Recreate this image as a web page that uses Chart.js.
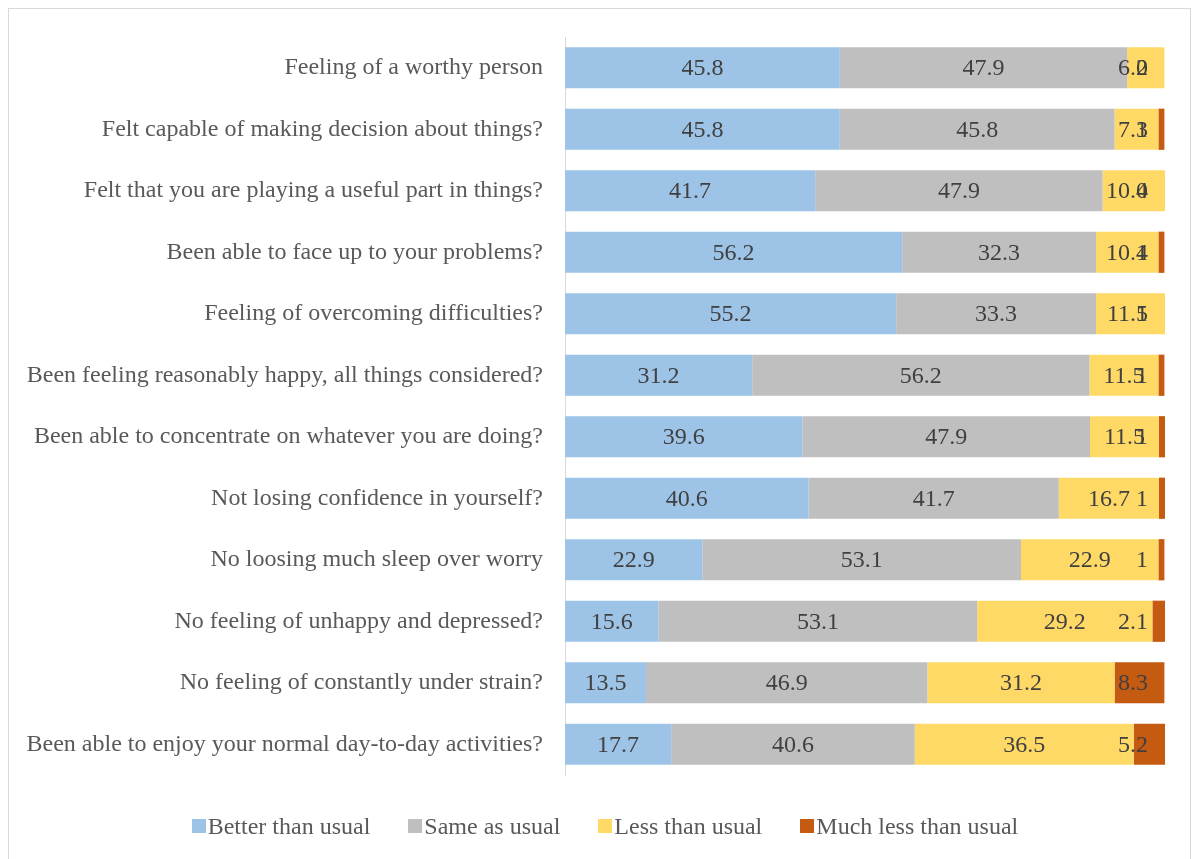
<!DOCTYPE html>
<html>
<head>
<meta charset="utf-8">
<script src="https://cdn.jsdelivr.net/npm/chart.js@4.4.0/dist/chart.umd.min.js"></script>
<style>
  html, body { margin: 0; background: #fff; }
  #wrap { position: relative; width: 1200px; height: 859px; }
  #frame { position: absolute; left: 8px; top: 8px; width: 1183px; height: 860px; border: 1px solid #d9d9d9; box-sizing: border-box; }
  canvas { position: absolute; left: 0; top: 0; }
  #leyenda { position: absolute; left: 0; top: 812px; width: 1210px; height: 28px;
    display: flex; justify-content: center; align-items: center; gap: 38px;
    font: 24px 'Liberation Serif', 'Times New Roman', serif; color: #595959; line-height: 28px; }
  #leyenda .item { display: flex; align-items: center; white-space: nowrap; }
  #leyenda .caja { width: 14px; height: 14px; margin-right: 2px; display: inline-block; }
</style>
</head>
<body>
<div id="wrap">
  <div id="frame"></div>
  <canvas id="chartGhq" width="1200" height="859"></canvas>
  <div id="leyenda"></div>
</div>
<script>
const preguntas = [
  "Feeling of a worthy person",
  "Felt capable of making decision about things?",
  "Felt that you are playing a useful part in things?",
  "Been able to face up to your problems?",
  "Feeling of overcoming difficulties?",
  "Been feeling reasonably happy, all things considered?",
  "Been able to concentrate on whatever you are doing?",
  "Not losing confidence in yourself?",
  "No loosing much sleep over worry",
  "No feeling of unhappy and depressed?",
  "No feeling of constantly under strain?",
  "Been able to enjoy your normal day-to-day activities?"
];

const mejor   = [45.8, 45.8, 41.7, 56.2, 55.2, 31.2, 39.6, 40.6, 22.9, 15.6, 13.5, 17.7];
const igual   = [47.9, 45.8, 47.9, 32.3, 33.3, 56.2, 47.9, 41.7, 53.1, 53.1, 46.9, 40.6];
const menos   = [6.2, 7.3, 10.4, 10.4, 11.5, 11.5, 11.5, 16.7, 22.9, 29.2, 31.2, 36.5];
const muchoMenos = [0, 1, 0, 1, 1, 1, 1, 1, 1, 2.1, 8.3, 5.2];

const series = ["Better than usual", "Same as usual", "Less than usual", "Much less than usual"];
const colores = ["#9dc3e6", "#bfbfbf", "#ffd966", "#c55a11"];

const fuente = "'Liberation Serif', 'Times New Roman', serif";

// etiquetas de valores dentro de cada segmento
const etiquetas = {
  id: "etiquetas",
  afterDatasetsDraw(chart) {
    const ctx = chart.ctx;
    const limite = chart.chartArea.right - 17;
    ctx.save();
    ctx.font = "24px " + fuente;
    ctx.fillStyle = "#404040";
    ctx.textAlign = "center";
    ctx.textBaseline = "middle";
    chart.data.datasets.forEach((ds, i) => {
      const meta = chart.getDatasetMeta(i);
      meta.data.forEach((bar, j) => {
        const txt = String(ds.data[j]);
        const w = ctx.measureText(txt).width;
        let x = (bar.x + bar.base) / 2;
        if (x + w / 2 > limite) x = limite - w / 2;
        ctx.fillText(txt, x, bar.y + 1);
      });
    });
    ctx.restore();
  }
};

const ctx = document.getElementById("chartGhq").getContext("2d");
const grafico = new Chart(ctx, {
  type: "bar",
  data: {
    labels: preguntas,
    datasets: [mejor, igual, menos, muchoMenos].map((d, i) => ({
      label: series[i],
      data: d,
      backgroundColor: colores[i],
      borderWidth: 0,
      barPercentage: 0.67,
      categoryPercentage: 1
    }))
  },
  options: {
    indexAxis: "y",
    responsive: false,
    animation: false,
    devicePixelRatio: 1,
    layout: { padding: { left: 0, right: 35, top: 37, bottom: 0 } },
    scales: {
      x: {
        stacked: true, min: 0, max: 100,
        grid: { display: false },
        border: { display: false },
        ticks: { display: false },
        afterFit(scale) { scale.height = 84; }
      },
      y: {
        stacked: true,
        grid: { display: false },
        border: { display: true, color: "#d9d9d9", width: 1 },
        ticks: { color: "#595959", font: { family: fuente, size: 24 }, padding: 14 },
        afterFit(scale) { scale.width = 565; }
      }
    },
    plugins: {
      tooltip: { enabled: false },
      legend: { display: false }
    }
  },
  plugins: [etiquetas]
});

// leyenda armada con los datasets del gráfico
const leyenda = document.getElementById("leyenda");
grafico.data.datasets.forEach(ds => {
  const item = document.createElement("div");
  item.className = "item";
  item.innerHTML = `<span class="caja" style="background:${ds.backgroundColor}"></span>${ds.label}`;
  leyenda.appendChild(item);
});
</script>
</body>
</html>
